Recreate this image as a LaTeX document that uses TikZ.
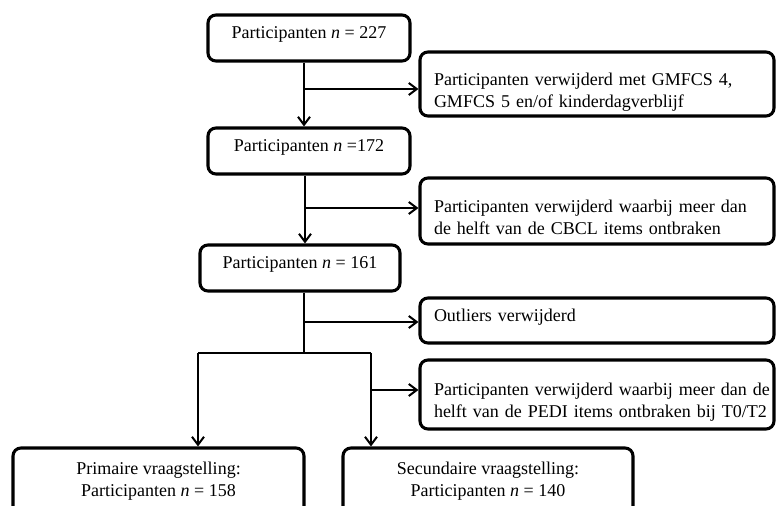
\documentclass[tikz,border=0pt]{standalone}
\usepackage{fontspec}
\setmainfont{Liberation Serif}
\usetikzlibrary{arrows.meta,positioning}
\newlength{\pxu}
\setlength{\pxu}{0.75pt}

\begin{document}
\begin{tikzpicture}[x=0.75pt,y=-0.75pt,
  flowbox/.style={draw,line width=2.3pt,rounded corners=6pt,inner sep=0pt,
    font=\fontsize{13.5}{16.5}\selectfont},
  mainbox/.style={flowbox,align=center,minimum height=46\pxu,text depth=8pt},
  sidebox/.style={flowbox,align=left,text width=244.5pt,minimum width=354\pxu,text depth=7.5pt},
  flowline/.style={line width=1.5pt},
  flowarrow/.style={flowline,-{Straight Barb[length=6pt,width=9pt]}}]
  % page frame (bottom boxes run off the lower edge)
  \path[use as bounding box,clip] (0,0) rectangle (776,506);
  % main column
  \node[mainbox,minimum width=202\pxu] (n227) at (309,38) {Participanten \textit{n} = 227};
  \node[mainbox,minimum width=202\pxu] (n172) at (309,151) {Participanten \textit{n} =172};
  \node[mainbox,minimum width=200\pxu] (n161) at (300,268) {Participanten \textit{n} = 161};
  % excluded participants (right column)
  \node[sidebox,minimum height=64\pxu] (gmfcs) at (597,84)
    {Participanten verwijderd met GMFCS 4,\\GMFCS 5 en/of kinderdagverblijf};
  \node[sidebox,minimum height=66\pxu] (cbcl) at (597,211)
    {Participanten verwijderd waarbij meer dan\\de helft van de CBCL items ontbraken};
  \node[sidebox,minimum height=45\pxu] (outl) at (597,320.5) {Outliers verwijderd};
  \node[sidebox,minimum height=69\pxu] (pedi) at (597,394.5)
    {\mbox{Participanten verwijderd waarbij meer dan de}\\\mbox{helft van de PEDI items ontbraken bij T0/T2}};
  % final samples
  \node[flowbox,align=center,minimum width=291\pxu,minimum height=67\pxu] (prim) at (158.5,481.5)
    {Primaire vraagstelling:\\Participanten \textit{n} = 158};
  \node[flowbox,align=center,minimum width=290\pxu,minimum height=67\pxu] (sec) at (488,481.5)
    {Secundaire vraagstelling:\\Participanten \textit{n} = 140};
  % junctions
  \coordinate (j1) at (304,89);
  \coordinate (j2) at (305,208);
  \coordinate (j3) at (304,322);
  \coordinate (split) at (304,353);
  \coordinate (bl) at (198,353);
  \coordinate (br) at (371,353);
  \coordinate (j4) at (371,390);
  % connectors
  \draw[flowarrow] (n227.south -| j1) -- (n172.north -| j1);
  \draw[flowarrow] (j1) -- (j1 -| gmfcs.west);
  \draw[flowarrow] (n172.south -| j2) -- (n161.north -| j2);
  \draw[flowarrow] (j2) -- (j2 -| cbcl.west);
  \draw[flowline] (n161.south -| j3) -- (split);
  \draw[flowarrow] (j3) -- (j3 -| outl.west);
  \draw[flowline] (bl) -- (br);
  \draw[flowarrow] (bl) -- (prim.north -| bl);
  \draw[flowarrow] (br) -- (sec.north -| br);
  \draw[flowarrow] (j4) -- (j4 -| pedi.west);
\end{tikzpicture}
\end{document}
